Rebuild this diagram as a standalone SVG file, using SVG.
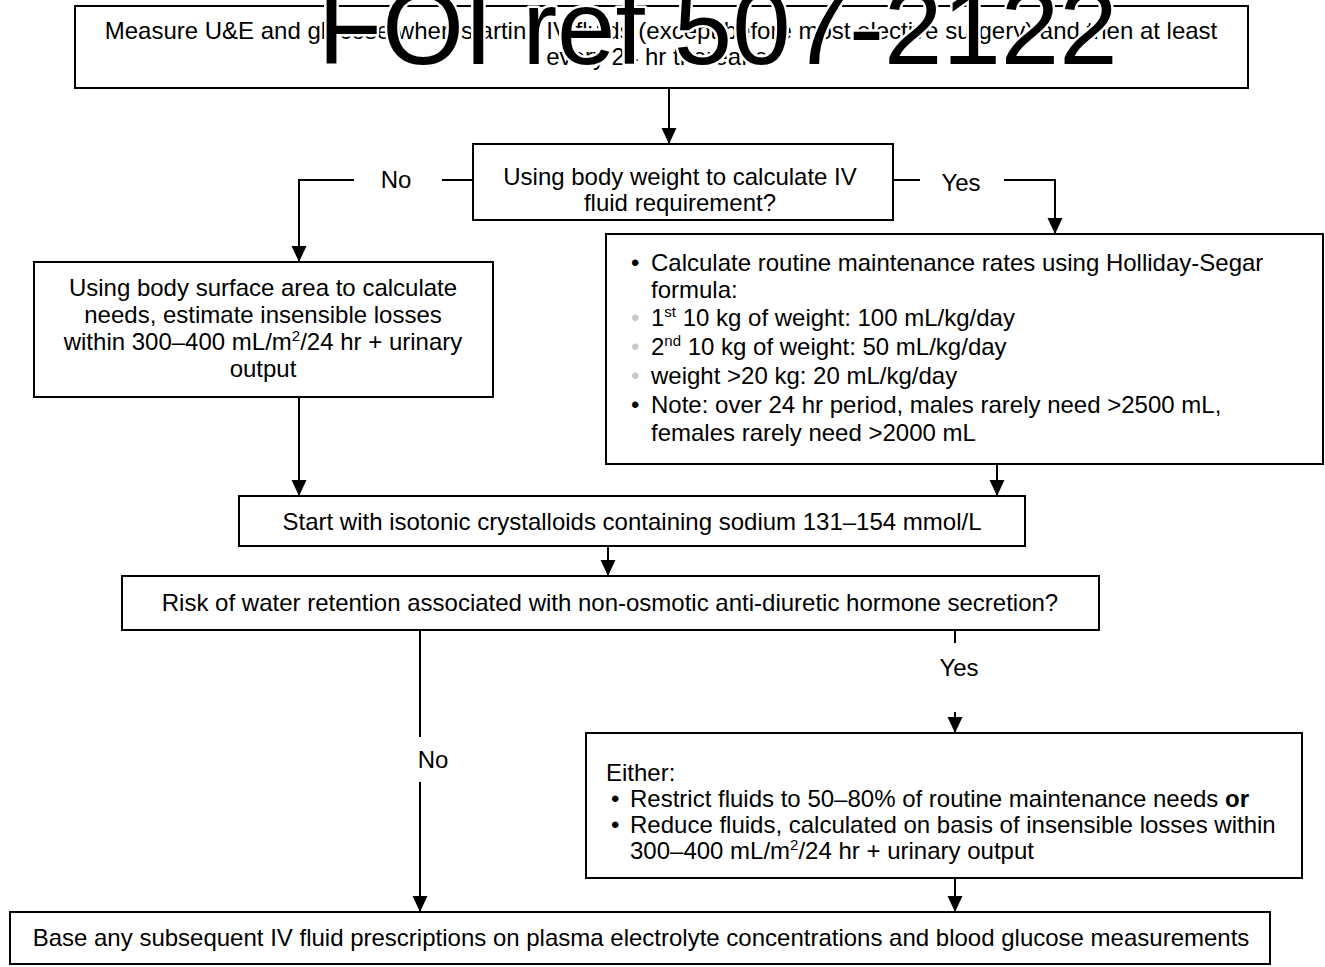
<svg xmlns="http://www.w3.org/2000/svg" width="1325" height="967" viewBox="0 0 1325 967">
  <style>
    .box { fill: #ffffff; stroke: #000000; stroke-width: 2; }
    .t { font-family: "Liberation Sans", Arial, sans-serif; font-size: 24px; fill: #000000; }
    .c { text-anchor: middle; }
    .sup { font-size: 15px; }
    .ln { fill: none; stroke: #000000; stroke-width: 2; }
    .grey { fill: #c8c8c8; }
    .wm { font-family: "Liberation Sans", Arial, sans-serif; font-size: 105px; fill: #000000;
          stroke: #ffffff; stroke-width: 5; stroke-linejoin: round; paint-order: stroke; }
  </style>
  <defs>
    <marker id="arrow" markerUnits="userSpaceOnUse" markerWidth="16" markerHeight="16"
            refX="16" refY="8" orient="auto">
      <path d="M0,0.5 L16,8 L0,15.5 Z" fill="#000000"/>
    </marker>
  </defs>

  <rect width="1325" height="967" fill="#ffffff"/>

  <!-- Flowchart steps -->
  <g id="measure">
    <rect class="box" x="75" y="6" width="1173" height="82"/>
    <text class="t c" x="661" y="39">Measure U&amp;E and glucose when starting IV fluids (except before most elective surgery) and then at least</text>
    <text class="t c" x="661" y="65">every 24 hr thereafter</text>
  </g>

  <g id="weight-question">
    <rect class="box" x="473" y="144" width="420" height="76"/>
    <text class="t c" x="680" y="185">Using body weight to calculate IV</text>
    <text class="t c" x="680" y="211">fluid requirement?</text>
  </g>

  <g id="surface-area">
    <rect class="box" x="34" y="262" width="459" height="135"/>
    <text class="t c" x="263" y="296">Using body surface area to calculate</text>
    <text class="t c" x="263" y="323">needs, estimate insensible losses</text>
    <text class="t c" x="263" y="350">within 300–400 mL/m<tspan class="sup" dy="-9">2</tspan><tspan dy="9">/24 hr + urinary</tspan></text>
    <text class="t c" x="263" y="377">output</text>
  </g>

  <g id="holliday-segar">
    <rect class="box" x="606" y="234" width="717" height="230"/>
    <text class="t" x="631" y="271">•</text>
    <text class="t" x="651" y="271">Calculate routine maintenance rates using Holliday-Segar</text>
    <text class="t" x="651" y="298">formula:</text>
    <text class="t grey" x="631" y="326">•</text>
    <text class="t" x="651" y="326">1<tspan class="sup" dy="-9">st</tspan><tspan dy="9"> 10 kg of weight: 100 mL/kg/day</tspan></text>
    <text class="t grey" x="631" y="355">•</text>
    <text class="t" x="651" y="355">2<tspan class="sup" dy="-9">nd</tspan><tspan dy="9"> 10 kg of weight: 50 mL/kg/day</tspan></text>
    <text class="t grey" x="631" y="384">•</text>
    <text class="t" x="651" y="384">weight &gt;20 kg: 20 mL/kg/day</text>
    <text class="t" x="631" y="413">•</text>
    <text class="t" x="651" y="413">Note: over 24 hr period, males rarely need &gt;2500 mL,</text>
    <text class="t" x="651" y="441">females rarely need &gt;2000 mL</text>
  </g>

  <g id="isotonic">
    <rect class="box" x="239" y="496" width="786" height="50"/>
    <text class="t c" x="632" y="530">Start with isotonic crystalloids containing sodium 131–154 mmol/L</text>
  </g>

  <g id="retention-question">
    <rect class="box" x="122" y="576" width="977" height="54"/>
    <text class="t c" x="610" y="611">Risk of water retention associated with non-osmotic anti-diuretic hormone secretion?</text>
  </g>

  <g id="restrict">
    <rect class="box" x="586" y="733" width="716" height="145"/>
    <text class="t" x="606" y="781">Either:</text>
    <text class="t" x="611" y="807">•</text>
    <text class="t" x="630" y="807">Restrict fluids to 50–80% of routine maintenance needs <tspan font-weight="bold">or</tspan></text>
    <text class="t" x="611" y="833">•</text>
    <text class="t" x="630" y="833">Reduce fluids, calculated on basis of insensible losses within</text>
    <text class="t" x="630" y="859">300–400 mL/m<tspan class="sup" dy="-9">2</tspan><tspan dy="9">/24 hr + urinary output</tspan></text>
  </g>

  <g id="subsequent">
    <rect class="box" x="10" y="912" width="1260" height="52"/>
    <text class="t c" x="641" y="946">Base any subsequent IV fluid prescriptions on plasma electrolyte concentrations and blood glucose measurements</text>
  </g>

  <!-- Connectors and branch labels -->
  <g id="connectors">
    <path class="ln" d="M669,88 V144" marker-end="url(#arrow)"/>

    <path class="ln" d="M473,180 H442"/>
    <path class="ln" d="M354,180 H299 V262" marker-end="url(#arrow)"/>
    <text class="t c" x="396" y="188">No</text>

    <path class="ln" d="M893,180 H920"/>
    <path class="ln" d="M1004,180 H1055 V234" marker-end="url(#arrow)"/>
    <text class="t c" x="961" y="191">Yes</text>

    <path class="ln" d="M299,397 V496" marker-end="url(#arrow)"/>
    <path class="ln" d="M997,464 V496" marker-end="url(#arrow)"/>
    <path class="ln" d="M608,546 V576" marker-end="url(#arrow)"/>

    <path class="ln" d="M420,630 V737"/>
    <path class="ln" d="M420,782 V912" marker-end="url(#arrow)"/>
    <text class="t c" x="433" y="768">No</text>

    <path class="ln" d="M955,630 V643"/>
    <text class="t c" x="959" y="676">Yes</text>
    <path class="ln" d="M955,712 V733" marker-end="url(#arrow)"/>

    <path class="ln" d="M955,878 V912" marker-end="url(#arrow)"/>
  </g>

  <!-- Reference stamp printed over the top step -->
  <text class="wm" x="318" y="64">FOI ref 507-2122</text>
</svg>
